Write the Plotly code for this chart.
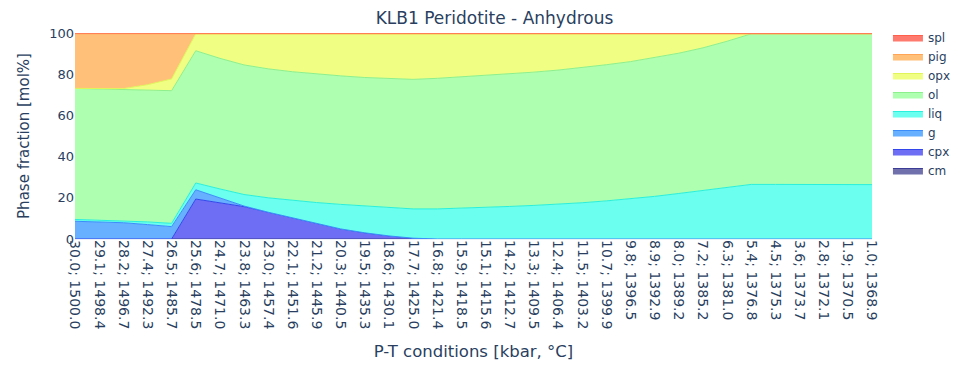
import plotly.graph_objects as go

pressure = [30.0, 29.1, 28.2, 27.4, 26.5, 25.6, 24.7, 23.8, 23.0, 22.1, 21.2, 20.3, 19.5, 18.6,
            17.7, 16.8, 15.9, 15.1, 14.2, 13.3, 12.4, 11.5, 10.7, 9.8, 8.9, 8.0, 7.2, 6.3,
            5.4, 4.5, 3.6, 2.8, 1.9, 1.0]
temperature = [1500.0, 1498.4, 1496.7, 1492.3, 1485.7, 1478.5, 1471.0, 1463.3, 1457.4, 1451.6,
               1445.9, 1440.5, 1435.3, 1430.1, 1425.0, 1421.4, 1418.5, 1415.6, 1412.7, 1409.5,
               1406.4, 1403.2, 1399.9, 1396.5, 1392.9, 1389.2, 1385.2, 1381.0, 1376.8, 1375.3,
               1373.7, 1372.1, 1370.5, 1368.9]
categories = [f"{p:.1f}; {t:.1f}" for p, t in zip(pressure, temperature)]

cm = [0.0] * 34
cpx = [0, 0, 0, 0, 0, 19.4, 17.6, 15.7, 13.0, 10.2, 7.5, 4.9, 3.0, 1.5, 0.4, 0, 0, 0, 0, 0,
       0, 0, 0, 0, 0, 0, 0, 0, 0, 0, 0, 0, 0, 0]
g = [8.6, 8.3, 7.9, 7.0, 6.0, 4.5, 2.2, 0.3, 0, 0, 0, 0, 0, 0, 0, 0, 0, 0, 0, 0,
     0, 0, 0, 0, 0, 0, 0, 0, 0, 0, 0, 0, 0, 0]
liq = [0.9, 0.9, 1.0, 1.3, 1.6, 3.3, 4.5, 5.6, 7.0, 8.6, 10.2, 11.9, 13.0, 13.7, 14.2, 14.6,
       14.9, 15.3, 15.8, 16.3, 16.9, 17.6, 18.5, 19.5, 20.7, 22.1, 23.6, 25.1, 26.5, 26.5,
       26.5, 26.4, 26.4, 26.4]
ol = [63.6, 63.7, 63.8, 64.1, 64.4, 64.2, 63.4, 62.9, 62.6, 62.4, 62.4, 62.4, 62.4, 62.6,
      62.9, 63.4, 63.8, 64.1, 64.4, 64.7, 65.1, 65.6, 66.1, 66.6, 67.3, 68.1, 69.2, 70.9,
      73.1, 73.1, 73.1, 73.2, 73.2, 73.2]
opx = [0, 0, 0.3, 2.5, 5.7, 8.2, 11.9, 15.1, 17.0, 18.4, 19.5, 20.4, 21.2, 21.8, 22.1, 21.6,
       20.9, 20.2, 19.4, 18.6, 17.6, 16.4, 15.0, 13.5, 11.6, 9.4, 6.8, 3.6, 0, 0, 0, 0, 0, 0]
pig = [26.5, 26.7, 26.6, 24.7, 21.9, 0, 0, 0, 0, 0, 0, 0, 0, 0, 0, 0, 0, 0, 0, 0,
       0, 0, 0, 0, 0, 0, 0, 0, 0, 0, 0, 0, 0, 0]
spl = [0.4] * 34

phases = ["cm", "cpx", "g", "liq", "ol", "opx", "pig", "spl"]
values = [cm, cpx, g, liq, ol, opx, pig, spl]
fill_colors = ["rgb(112,112,172)", "rgb(110,110,245)", "rgb(102,176,255)", "rgb(106,255,238)",
               "rgb(174,255,176)", "rgb(240,255,132)", "rgb(255,192,122)", "rgb(255,122,110)"]
line_colors = ["rgb(60,60,150)", "rgb(50,70,235)", "rgb(60,140,250)", "rgb(40,240,220)",
               "rgb(140,240,140)", "rgb(225,245,90)", "rgb(255,165,85)", "rgb(255,95,75)"]

fig = go.Figure()
for name, vals, fc, lc in zip(phases, values, fill_colors, line_colors):
    fig.add_trace(go.Scatter(
        x=categories, y=vals, name=name, mode="lines", stackgroup="one",
        line=dict(color=lc, width=1), fillcolor=fc,
    ))

fig.update_layout(
    template="plotly_white",
    width=973, height=375,
    font=dict(family="Verdana, DejaVu Sans, sans-serif"),
    title=dict(text="KLB1 Peridotite - Anhydrous", x=0.5, xanchor="center",
               y=1 - 10 / 375, yanchor="middle"),
    margin=dict(l=67, r=109, t=25, b=144),
    legend=dict(traceorder="reversed", y=1.0485, yanchor="top"),
    xaxis=dict(title=dict(text="P-T conditions [kbar, °C]", standoff=17, font=dict(size=16.5)),
               tickangle=90, tickfont=dict(size=14), type="category", range=[0, 33]),
    yaxis=dict(title=dict(text="Phase fraction [mol%]", standoff=15, font=dict(size=15)),
               tickfont=dict(size=13), range=[0, 100], dtick=20),
)

fig.write_html("out.html")
